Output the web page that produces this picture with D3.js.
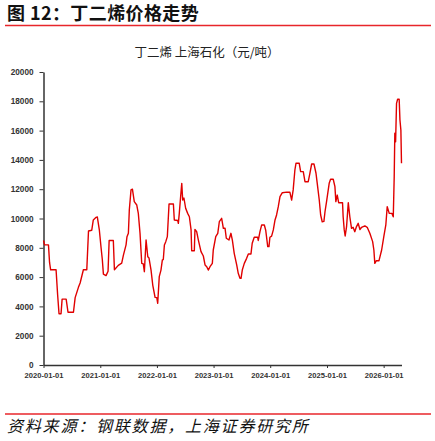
<!DOCTYPE html>
<html>
<head>
<meta charset="utf-8">
<script src="https://d3js.org/d3.v7.min.js"></script>
<style>
  body { margin: 0; background: #fff; }
  svg { display: block; font-family: "Liberation Sans", Arial, sans-serif; }
  .axis path, .axis line { stroke: #333; }
  .axis text { fill: #333; font-weight: bold; }
</style>
</head>
<body>
<div id="chart"></div>
<script>
// Butadiene price, Shanghai Petrochemical (yuan/ton)
const dates = [
  "2020-01-01","2020-01-08","2020-02-02","2020-02-09","2020-02-16","2020-03-22","2020-04-01","2020-04-10",
  "2020-04-23","2020-04-30","2020-05-26","2020-06-07","2020-07-12","2020-07-23","2020-08-13","2020-08-24",
  "2020-09-14","2020-10-06","2020-10-17","2020-11-07","2020-11-17","2020-12-05","2020-12-13","2020-12-26",
  "2021-01-06","2021-01-14","2021-01-21","2021-02-07","2021-02-20","2021-02-27","2021-03-26","2021-04-02",
  "2021-04-27","2021-05-19","2021-05-30","2021-06-16","2021-06-22","2021-07-01","2021-07-07","2021-07-18",
  "2021-07-27","2021-08-08","2021-08-24","2021-09-03","2021-09-14","2021-09-25","2021-10-05","2021-10-12",
  "2021-10-23","2021-11-03","2021-11-11","2021-11-24","2021-12-05","2021-12-20","2021-12-31","2022-01-06",
  "2022-01-16","2022-01-27","2022-02-05","2022-02-11","2022-02-18","2022-02-27","2022-03-09","2022-03-20",
  "2022-04-17","2022-04-23","2022-05-15","2022-05-19","2022-05-25","2022-06-03","2022-06-10","2022-06-16",
  "2022-06-24","2022-07-05","2022-07-18","2022-07-29","2022-08-09","2022-08-13","2022-08-30","2022-09-03",
  "2022-09-14","2022-09-25","2022-10-12","2022-10-27","2022-11-07","2022-11-18","2022-11-28","2022-12-09",
  "2022-12-24","2022-12-30","2023-01-15","2023-01-28","2023-02-07","2023-02-22","2023-03-05","2023-03-16",
  "2023-03-24","2023-04-10","2023-04-23","2023-05-02","2023-05-14","2023-05-30","2023-06-09","2023-06-20",
  "2023-06-27","2023-07-05","2023-07-18","2023-08-02","2023-08-13","2023-08-30","2023-09-07","2023-09-20",
  "2023-10-12","2023-10-16","2023-10-27","2023-11-07","2023-11-24","2023-12-03","2023-12-16","2023-12-24",
  "2023-12-30","2024-01-10","2024-01-21","2024-02-01","2024-02-11","2024-02-22","2024-03-04","2024-03-19",
  "2024-04-16","2024-05-07","2024-05-18","2024-05-28","2024-06-08","2024-06-15","2024-07-06","2024-07-15",
  "2024-08-01","2024-08-12","2024-09-02","2024-09-13","2024-09-24","2024-10-09","2024-10-22","2024-10-30",
  "2024-11-12","2024-11-21","2024-12-01","2024-12-12","2024-12-19","2024-12-29","2025-01-15","2025-01-24",
  "2025-02-10","2025-02-21","2025-02-27","2025-03-08","2025-03-17","2025-04-11","2025-04-15","2025-04-22",
  "2025-04-28","2025-05-07","2025-05-18","2025-05-28","2025-06-08","2025-06-18","2025-06-29","2025-07-10",
  "2025-07-21","2025-08-01","2025-08-12","2025-08-22","2025-09-02","2025-09-17","2025-10-04","2025-10-22",
  "2025-10-30","2025-11-05","2025-11-15","2025-12-02","2025-12-19","2026-01-02","2026-01-15","2026-01-24",
  "2026-02-06","2026-02-23","2026-03-04","2026-03-10","2026-03-14","2026-03-19","2026-03-25","2026-04-01",
  "2026-04-11","2026-04-16","2026-04-22","2026-04-26"
];
const prices = [
  8500,8200,8200,7000,6500,6500,4800,3500,
  3500,4500,4500,3600,3600,4600,5300,5600,
  6500,6500,9150,9200,9900,10080,10100,9200,
  8000,7200,6200,6100,6400,8500,8500,6500,
  6800,6950,7500,8200,8760,8990,10580,11950,
  12000,11150,10920,10350,8990,6940,6900,6370,
  8530,7390,7300,6480,5460,4620,4600,4210,
  6030,6480,7170,7200,8190,8420,8760,10990,
  10990,9900,9860,9670,10350,11540,12400,11260,
  11400,10700,10350,10120,9220,7800,7800,9260,
  9100,8530,7740,7440,6830,6710,6480,6710,
  6940,7850,8760,8990,9780,10010,9330,9330,
  8650,8530,8990,8530,7620,6830,6260,5920,
  5920,6480,6940,7280,7580,7580,8310,8720,
  8720,8500,9100,9560,9560,9200,8080,8080,
  8720,8800,9220,9900,10240,10810,11490,11760,
  11800,11790,11260,11950,13310,13770,13770,13200,
  13200,12510,12510,13090,13720,13720,13090,12400,
  11260,10240,9780,9800,10460,11150,12400,12680,
  12680,12170,11150,11600,11080,11080,10120,9220,
  8810,9440,11080,10120,9330,9400,9100,9450,
  9670,9250,9400,9450,9490,9400,8990,8420,
  7850,6940,7120,7120,7850,8760,9560,10810,
  10350,10350,10120,12850,15820,15240,17860,18140,
  18140,16720,16040,13770
];
const yTicks = [0, 2000, 4000, 6000, 8000, 10000, 12000, 14000, 16000, 18000, 20000];
const xTickLabels = ["2020-01-01","2021-01-01","2022-01-01","2023-01-01","2024-01-01","2025-01-01","2026-01-01"];

const figureTitle = "图 12：丁二烯价格走势";
const chartTitle = "丁二烯 上海石化（元/吨）";
const sourceNote = "资料来源：钢联数据，上海证券研究所";

const W = 435, H = 441;
const parse = d3.timeParse("%Y-%m-%d");
const series = dates.map((d, i) => ({ date: parse(d), value: prices[i] }));

const svg = d3.select("#chart").append("svg")
  .attr("width", W)
  .attr("height", H);

// header
svg.append("text")
  .attr("x", 7)
  .attr("y", 20)
  .attr("font-family", "'Noto Sans CJK SC', sans-serif")
  .attr("font-size", 18)
  .attr("font-weight", "bold")
  .attr("letter-spacing", 0.4)
  .attr("fill", "#111")
  .text(figureTitle);

svg.append("line")
  .attr("x1", 5).attr("x2", 431)
  .attr("y1", 25.5).attr("y2", 25.5)
  .attr("stroke", "#e8262b")
  .attr("stroke-width", 1.5);

svg.append("text")
  .attr("x", 207)
  .attr("y", 57)
  .attr("text-anchor", "middle")
  .attr("font-family", "'Noto Sans CJK SC', sans-serif")
  .attr("font-size", 12.5)
  .attr("fill", "#222")
  .text(chartTitle);

// scales
const x = d3.scaleTime()
  .domain(d3.extent(series, d => d.date))
  .range([43.5, 401.5]);

const y = d3.scaleLinear()
  .domain([0, 20000])
  .range([365, 72]);

// axes
const yAxis = svg.append("g")
  .attr("class", "axis")
  .attr("transform", "translate(43.5,0)")
  .call(d3.axisLeft(y).tickValues(yTicks).tickFormat(d3.format("d"))
    .tickSize(4).tickPadding(6).tickSizeOuter(0));
yAxis.selectAll("text").attr("font-size", 8.2);
yAxis.select(".domain").attr("stroke-width", 1.5);

const xAxis = svg.append("g")
  .attr("class", "axis")
  .attr("transform", "translate(0,365)")
  .call(d3.axisBottom(x)
    .tickValues(xTickLabels.map(parse))
    .tickFormat(d3.timeFormat("%Y-%m-%d"))
    .tickSize(3).tickPadding(5).tickSizeOuter(0));
xAxis.selectAll("text").attr("font-size", 7.6);
xAxis.select(".domain").attr("stroke-width", 1.5);

// price line
const line = d3.line()
  .x(d => x(d.date))
  .y(d => y(d.value));

svg.append("path")
  .datum(series)
  .attr("fill", "none")
  .attr("stroke", "#e00000")
  .attr("stroke-width", 1.4)
  .attr("stroke-linejoin", "round")
  .attr("d", line);

// footer
svg.append("line")
  .attr("x1", 5).attr("x2", 431)
  .attr("y1", 414).attr("y2", 414)
  .attr("stroke", "#e8262b")
  .attr("stroke-width", 1.5);

svg.append("text")
  .attr("x", 7)
  .attr("y", 432)
  .attr("font-family", "'Noto Sans CJK SC', sans-serif")
  .attr("font-size", 16)
  .attr("font-style", "italic")
  .attr("letter-spacing", 1.8)
  .attr("fill", "#111")
  .text(sourceNote);
</script>
</body>
</html>
